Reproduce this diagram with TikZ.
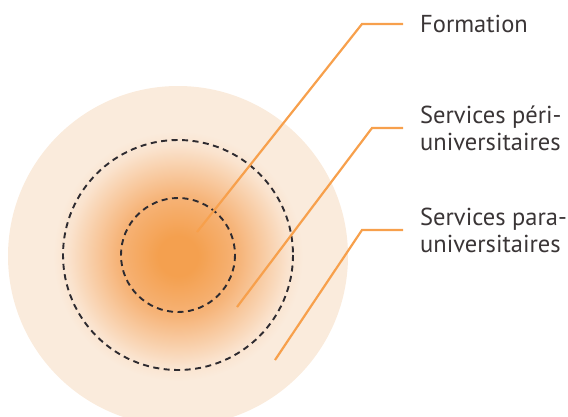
\documentclass[tikz,border=0pt]{standalone}
\usepackage{fontspec}
\setmainfont{PT Sans}
\definecolor{bgdisc}{HTML}{FAEBDC}
\definecolor{core}{HTML}{F4A04F}
\definecolor{midc}{HTML}{F6B377}
\definecolor{edgec}{HTML}{FAE3CE}
\definecolor{leadc}{HTML}{F7A04C}
\definecolor{dashc}{HTML}{2E2B30}
\definecolor{txtc}{HTML}{3A3536}
\pgfdeclareradialshading{glow}{\pgfpoint{0bp}{0bp}}{%
  color(0bp)=(core); color(4bp)=(core); color(12bp)=(midc); color(22bp)=(edgec); color(25bp)=(bgdisc); color(50bp)=(bgdisc)}
\tikzset{
  leader/.style={draw=leadc, line width=2.2pt, line join=miter},
  ring/.style={draw=dashc, line width=1.9pt, dash pattern=on 6pt off 4.5pt},
  lbl/.style={anchor=west, inner sep=0pt, text=txtc, align=left,
    font=\fontsize{24.5}{27}\selectfont},
}
\begin{document}
\begin{tikzpicture}[x=1pt,y=-1pt]
\useasboundingbox (0,0) rectangle (568,416);
\clip (0,0) rectangle (568,416);
% discs
\fill[bgdisc] (178,256) circle (170);
\shade[shading=glow] (178,256) circle (125);
\draw[ring] (178,255) circle (115);
\draw[ring] (178,255) circle (57);
% labels
\node[lbl] (f) at (420,24) {Formation};
\node[lbl] (p) at (420,128) {Services péri-\\universitaires};
\node[lbl] (q) at (420,230) {Services para-\\universitaires};
% leader points
\coordinate (s1) at (197,232);
\coordinate (b1) at (362,24);
\coordinate (s2) at (237,307);
\coordinate (b2) at (372,128);
\coordinate (s3) at (275,360);
\coordinate (b3) at (362,230);
\draw[leader] (s1) -- (b1) -- ([xshift=-17pt]f.west);
\draw[leader] (s2) -- (b2) -- ([xshift=-17pt]p.west);
\draw[leader] (s3) -- (b3) -- ([xshift=-17pt]q.west);
\end{tikzpicture}
\end{document}
